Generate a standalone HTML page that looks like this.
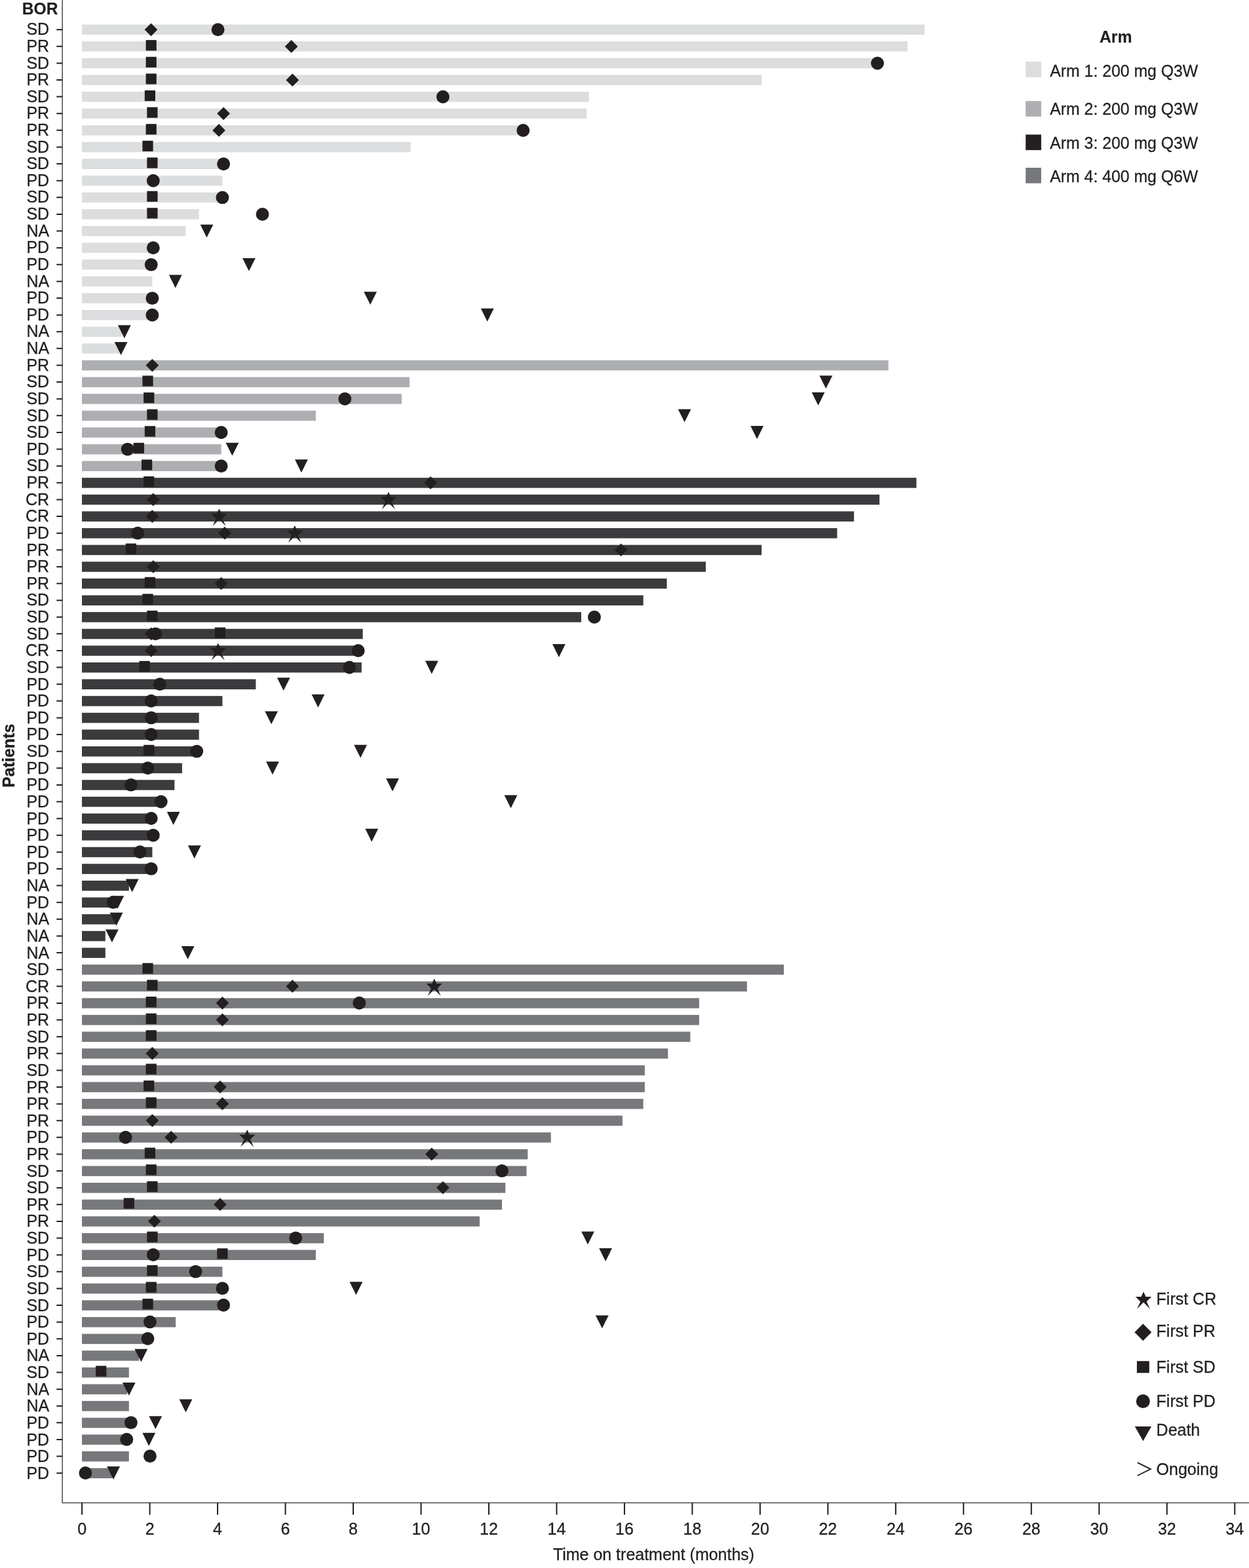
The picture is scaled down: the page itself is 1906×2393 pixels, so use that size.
<!DOCTYPE html>
<html lang="en">
<head>
<meta charset="utf-8">
<title>Time on treatment by patient</title>
<style>
html,body{margin:0;padding:0;background:#fff;}
body{width:1906px;height:2393px;overflow:hidden;}
svg{display:block;}
text{font-family:"Liberation Sans",sans-serif;fill:#231f20;}
.lbl,.lbl text{stroke:#231f20;stroke-width:0.3px;}
.lbl{font-size:25.2px;}
.b{font-weight:bold;font-size:25px;stroke:#231f20;stroke-width:0.2px;}
</style>
</head>
<body>
<svg width="1906" height="2393" viewBox="0 0 1906 2393">
<rect x="0" y="0" width="1906" height="2393" fill="#ffffff"/>
<g fill="#dcddde">
<rect x="125" y="37.5" width="1285.8" height="15.5"/>
<rect x="125" y="63.12" width="1259.9" height="15.5"/>
<rect x="125" y="88.73" width="1210" height="15.5"/>
<rect x="125" y="114.35" width="1037.2" height="15.5"/>
<rect x="125" y="139.97" width="773.8" height="15.5"/>
<rect x="125" y="165.59" width="770.3" height="15.5"/>
<rect x="125" y="191.2" width="672" height="15.5"/>
<rect x="125" y="216.82" width="501.6" height="15.5"/>
<rect x="125" y="242.44" width="214" height="15.5"/>
<rect x="125" y="268.05" width="214.4" height="15.5"/>
<rect x="125" y="293.67" width="212" height="15.5"/>
<rect x="125" y="319.29" width="178.7" height="15.5"/>
<rect x="125" y="344.9" width="158.5" height="15.5"/>
<rect x="125" y="370.52" width="107" height="15.5"/>
<rect x="125" y="396.14" width="104" height="15.5"/>
<rect x="125" y="421.75" width="107.4" height="15.5"/>
<rect x="125" y="447.37" width="105" height="15.5"/>
<rect x="125" y="472.99" width="105" height="15.5"/>
<rect x="125" y="498.61" width="61" height="15.5"/>
<rect x="125" y="524.22" width="57" height="15.5"/>
</g>
<g fill="#adaeb2">
<rect x="125" y="549.84" width="1230.7" height="15.5"/>
<rect x="125" y="575.46" width="499.9" height="15.5"/>
<rect x="125" y="601.07" width="488" height="15.5"/>
<rect x="125" y="626.69" width="356.9" height="15.5"/>
<rect x="125" y="652.31" width="211" height="15.5"/>
<rect x="125" y="677.93" width="212.6" height="15.5"/>
<rect x="125" y="703.54" width="211" height="15.5"/>
</g>
<g fill="#3b3b3d">
<rect x="125" y="729.16" width="1273.5" height="15.5"/>
<rect x="125" y="754.78" width="1217.1" height="15.5"/>
<rect x="125" y="780.39" width="1178.2" height="15.5"/>
<rect x="125" y="806.01" width="1152.5" height="15.5"/>
<rect x="125" y="831.63" width="1037.2" height="15.5"/>
<rect x="125" y="857.24" width="952" height="15.5"/>
<rect x="125" y="882.86" width="892.6" height="15.5"/>
<rect x="125" y="908.48" width="856.7" height="15.5"/>
<rect x="125" y="934.1" width="762" height="15.5"/>
<rect x="125" y="959.71" width="428.6" height="15.5"/>
<rect x="125" y="985.33" width="421" height="15.5"/>
<rect x="125" y="1010.95" width="426.8" height="15.5"/>
<rect x="125" y="1036.56" width="265.4" height="15.5"/>
<rect x="125" y="1062.18" width="214.4" height="15.5"/>
<rect x="125" y="1087.8" width="178.7" height="15.5"/>
<rect x="125" y="1113.41" width="178.7" height="15.5"/>
<rect x="125" y="1139.03" width="175" height="15.5"/>
<rect x="125" y="1164.65" width="152.9" height="15.5"/>
<rect x="125" y="1190.27" width="141.3" height="15.5"/>
<rect x="125" y="1215.88" width="118" height="15.5"/>
<rect x="125" y="1241.5" width="104" height="15.5"/>
<rect x="125" y="1267.12" width="107" height="15.5"/>
<rect x="125" y="1292.73" width="107.4" height="15.5"/>
<rect x="125" y="1318.35" width="104" height="15.5"/>
<rect x="125" y="1343.97" width="71.8" height="15.5"/>
<rect x="125" y="1369.58" width="50" height="15.5"/>
<rect x="125" y="1395.2" width="52" height="15.5"/>
<rect x="125" y="1420.82" width="35.8" height="15.5"/>
<rect x="125" y="1446.43" width="35.8" height="15.5"/>
</g>
<g fill="#77787b">
<rect x="125" y="1472.05" width="1071.2" height="15.5"/>
<rect x="125" y="1497.67" width="1014.9" height="15.5"/>
<rect x="125" y="1523.29" width="941.9" height="15.5"/>
<rect x="125" y="1548.9" width="941.9" height="15.5"/>
<rect x="125" y="1574.52" width="928.4" height="15.5"/>
<rect x="125" y="1600.14" width="894.3" height="15.5"/>
<rect x="125" y="1625.75" width="858.9" height="15.5"/>
<rect x="125" y="1651.37" width="858.9" height="15.5"/>
<rect x="125" y="1676.99" width="856.7" height="15.5"/>
<rect x="125" y="1702.61" width="824.9" height="15.5"/>
<rect x="125" y="1728.22" width="715.7" height="15.5"/>
<rect x="125" y="1753.84" width="680.3" height="15.5"/>
<rect x="125" y="1779.46" width="678.5" height="15.5"/>
<rect x="125" y="1805.07" width="646.2" height="15.5"/>
<rect x="125" y="1830.69" width="641" height="15.5"/>
<rect x="125" y="1856.31" width="606.9" height="15.5"/>
<rect x="125" y="1881.92" width="369.2" height="15.5"/>
<rect x="125" y="1907.54" width="356.9" height="15.5"/>
<rect x="125" y="1933.16" width="214.4" height="15.5"/>
<rect x="125" y="1958.78" width="212" height="15.5"/>
<rect x="125" y="1984.39" width="214" height="15.5"/>
<rect x="125" y="2010.01" width="143.1" height="15.5"/>
<rect x="125" y="2035.63" width="99" height="15.5"/>
<rect x="125" y="2061.24" width="87" height="15.5"/>
<rect x="125" y="2086.86" width="71.8" height="15.5"/>
<rect x="125" y="2112.48" width="69" height="15.5"/>
<rect x="125" y="2138.09" width="71.8" height="15.5"/>
<rect x="125" y="2163.71" width="73" height="15.5"/>
<rect x="125" y="2189.33" width="66" height="15.5"/>
<rect x="125" y="2214.95" width="71.8" height="15.5"/>
<rect x="125" y="2240.56" width="46.5" height="15.5"/>
</g>
<g fill="#231f20">
<polygon points="230.5,35.45 240.35,45.3 230.5,55.15 220.65,45.3"/>
<circle cx="332.6" cy="45.3" r="9.95"/>
<rect x="222.6" y="61.11" width="16.2" height="16.2"/>
<polygon points="444.6,61.06 454.45,70.91 444.6,80.76 434.75,70.91"/>
<rect x="222.6" y="86.72" width="16.2" height="16.2"/>
<circle cx="1339" cy="96.52" r="9.95"/>
<rect x="222.6" y="112.34" width="16.2" height="16.2"/>
<polygon points="446.3,112.29 456.15,122.14 446.3,131.99 436.45,122.14"/>
<rect x="220.8" y="137.95" width="16.2" height="16.2"/>
<circle cx="675.9" cy="147.75" r="9.95"/>
<rect x="224.3" y="163.56" width="16.2" height="16.2"/>
<polygon points="341.1,163.51 350.95,173.36 341.1,183.21 331.25,173.36"/>
<rect x="222.6" y="189.17" width="16.2" height="16.2"/>
<polygon points="334.1,189.12 343.95,198.97 334.1,208.82 324.25,198.97"/>
<circle cx="798.3" cy="198.97" r="9.95"/>
<rect x="217.4" y="214.78" width="16.2" height="16.2"/>
<rect x="224.3" y="240.4" width="16.2" height="16.2"/>
<circle cx="341.1" cy="250.2" r="9.95"/>
<circle cx="233.8" cy="275.81" r="9.95"/>
<rect x="224.3" y="291.62" width="16.2" height="16.2"/>
<circle cx="339.4" cy="301.42" r="9.95"/>
<rect x="224.3" y="317.23" width="16.2" height="16.2"/>
<circle cx="400.5" cy="327.03" r="9.95"/>
<polygon points="305.6,342.69 325.4,342.69 315.5,362.59"/>
<circle cx="233.8" cy="378.26" r="9.95"/>
<circle cx="230.7" cy="403.87" r="9.95"/>
<polygon points="370,393.92 389.8,393.92 379.9,413.82"/>
<polygon points="257.8,419.53 277.6,419.53 267.7,439.43"/>
<circle cx="232.4" cy="455.09" r="9.95"/>
<polygon points="555.2,445.14 575,445.14 565.1,465.04"/>
<circle cx="232.4" cy="480.7" r="9.95"/>
<polygon points="733.8,470.75 753.6,470.75 743.7,490.65"/>
<polygon points="179.9,496.37 199.7,496.37 189.8,516.27"/>
<polygon points="174.7,521.98 194.5,521.98 184.6,541.88"/>
<polygon points="232.4,547.69 242.25,557.54 232.4,567.39 222.55,557.54"/>
<rect x="217.4" y="573.35" width="16.2" height="16.2"/>
<polygon points="1250.5,573.2 1270.3,573.2 1260.4,593.1"/>
<rect x="219.1" y="598.96" width="16.2" height="16.2"/>
<circle cx="526.3" cy="608.76" r="9.95"/>
<polygon points="1238.7,598.81 1258.5,598.81 1248.6,618.71"/>
<rect x="224.3" y="624.58" width="16.2" height="16.2"/>
<polygon points="1034.7,624.43 1054.5,624.43 1044.6,644.33"/>
<rect x="220.8" y="650.19" width="16.2" height="16.2"/>
<circle cx="337.6" cy="659.99" r="9.95"/>
<polygon points="1145.3,650.04 1165.1,650.04 1155.2,669.94"/>
<circle cx="194.7" cy="685.6" r="9.95"/>
<rect x="203.7" y="675.8" width="16.2" height="16.2"/>
<polygon points="344.5,675.65 364.3,675.65 354.4,695.55"/>
<rect x="216" y="701.41" width="16.2" height="16.2"/>
<circle cx="337.6" cy="711.21" r="9.95"/>
<polygon points="450,701.26 469.8,701.26 459.9,721.16"/>
<rect x="219.1" y="727.02" width="16.2" height="16.2"/>
<polygon points="657,726.97 666.85,736.82 657,746.67 647.15,736.82"/>
<polygon points="233.8,752.59 243.65,762.44 233.8,772.29 223.95,762.44"/>
<polygon points="592.8,750.64 596.3,758.24 604.9,758.34 597.55,765.84 602.8,777.14 592.8,766.94 582.8,777.14 588.05,765.84 580.7,758.34 589.3,758.24"/>
<polygon points="232.4,778.2 242.25,788.05 232.4,797.9 222.55,788.05"/>
<polygon points="334.5,776.25 338,783.85 346.6,783.95 339.25,791.45 344.5,802.75 334.5,792.55 324.5,802.75 329.75,791.45 322.4,783.95 331,783.85"/>
<circle cx="210.1" cy="813.66" r="9.95"/>
<polygon points="342.9,803.81 352.75,813.66 342.9,823.51 333.05,813.66"/>
<polygon points="449.8,801.86 453.3,809.46 461.9,809.56 454.55,817.06 459.8,828.36 449.8,818.16 439.8,828.36 445.05,817.06 437.7,809.56 446.3,809.46"/>
<rect x="191.8" y="829.47" width="16.2" height="16.2"/>
<polygon points="947.7,829.42 957.55,839.27 947.7,849.12 937.85,839.27"/>
<polygon points="233.8,855.03 243.65,864.88 233.8,874.73 223.95,864.88"/>
<rect x="220.8" y="880.7" width="16.2" height="16.2"/>
<polygon points="337.6,880.65 347.45,890.5 337.6,900.35 327.75,890.5"/>
<rect x="217.4" y="906.31" width="16.2" height="16.2"/>
<rect x="224.3" y="931.92" width="16.2" height="16.2"/>
<circle cx="907" cy="941.72" r="9.95"/>
<polygon points="230.7,957.48 240.55,967.33 230.7,977.18 220.85,967.33"/>
<circle cx="237.3" cy="967.33" r="9.95"/>
<rect x="327.8" y="957.53" width="16.2" height="16.2"/>
<polygon points="230.7,983.09 240.55,992.94 230.7,1002.79 220.85,992.94"/>
<polygon points="332.8,981.14 336.3,988.74 344.9,988.84 337.55,996.34 342.8,1007.64 332.8,997.44 322.8,1007.64 328.05,996.34 320.7,988.84 329.3,988.74"/>
<circle cx="546.6" cy="992.94" r="9.95"/>
<polygon points="843,982.99 862.8,982.99 852.9,1002.89"/>
<rect x="212.5" y="1008.76" width="16.2" height="16.2"/>
<circle cx="533.3" cy="1018.56" r="9.95"/>
<polygon points="648.9,1008.61 668.7,1008.61 658.8,1028.51"/>
<circle cx="244" cy="1044.17" r="9.95"/>
<polygon points="422.8,1034.22 442.6,1034.22 432.7,1054.12"/>
<circle cx="230.7" cy="1069.78" r="9.95"/>
<polygon points="475.5,1059.83 495.3,1059.83 485.4,1079.73"/>
<circle cx="230.7" cy="1095.39" r="9.95"/>
<polygon points="404.2,1085.44 424,1085.44 414.1,1105.34"/>
<circle cx="230.7" cy="1121" r="9.95"/>
<rect x="219.1" y="1136.82" width="16.2" height="16.2"/>
<circle cx="300.2" cy="1146.62" r="9.95"/>
<polygon points="540.2,1136.67 560,1136.67 550.1,1156.57"/>
<circle cx="225.5" cy="1172.23" r="9.95"/>
<polygon points="406,1162.28 425.8,1162.28 415.9,1182.18"/>
<circle cx="199.9" cy="1197.84" r="9.95"/>
<polygon points="589.1,1187.89 608.9,1187.89 599,1207.79"/>
<circle cx="245.7" cy="1223.45" r="9.95"/>
<polygon points="769.6,1213.5 789.4,1213.5 779.5,1233.4"/>
<circle cx="230.7" cy="1249.06" r="9.95"/>
<polygon points="254.7,1239.11 274.5,1239.11 264.6,1259.01"/>
<circle cx="233.8" cy="1274.68" r="9.95"/>
<polygon points="557.3,1264.73 577.1,1264.73 567.2,1284.63"/>
<circle cx="213.6" cy="1300.29" r="9.95"/>
<polygon points="286.8,1290.34 306.6,1290.34 296.7,1310.24"/>
<circle cx="230.7" cy="1325.9" r="9.95"/>
<polygon points="191.8,1341.56 211.6,1341.56 201.7,1361.46"/>
<circle cx="172.7" cy="1377.12" r="9.95"/>
<polygon points="169.4,1367.17 189.2,1367.17 179.3,1387.07"/>
<polygon points="167.7,1392.79 187.5,1392.79 177.6,1412.69"/>
<polygon points="161,1418.4 180.8,1418.4 170.9,1438.3"/>
<polygon points="276.7,1444.01 296.5,1444.01 286.6,1463.91"/>
<rect x="217.4" y="1469.77" width="16.2" height="16.2"/>
<rect x="224.3" y="1495.38" width="16.2" height="16.2"/>
<polygon points="446.3,1495.33 456.15,1505.18 446.3,1515.03 436.45,1505.18"/>
<polygon points="662.7,1493.38 666.2,1500.98 674.8,1501.08 667.45,1508.58 672.7,1519.88 662.7,1509.68 652.7,1519.88 657.95,1508.58 650.6,1501.08 659.2,1500.98"/>
<rect x="222.6" y="1521" width="16.2" height="16.2"/>
<polygon points="339.4,1520.95 349.25,1530.8 339.4,1540.65 329.55,1530.8"/>
<circle cx="548.3" cy="1530.8" r="9.95"/>
<rect x="222.6" y="1546.61" width="16.2" height="16.2"/>
<polygon points="339.4,1546.56 349.25,1556.41 339.4,1566.26 329.55,1556.41"/>
<rect x="222.6" y="1572.22" width="16.2" height="16.2"/>
<polygon points="232.4,1597.78 242.25,1607.63 232.4,1617.48 222.55,1607.63"/>
<rect x="222.6" y="1623.44" width="16.2" height="16.2"/>
<rect x="219.1" y="1649.06" width="16.2" height="16.2"/>
<polygon points="335.9,1649.01 345.75,1658.86 335.9,1668.71 326.05,1658.86"/>
<rect x="222.6" y="1674.67" width="16.2" height="16.2"/>
<polygon points="339.4,1674.62 349.25,1684.47 339.4,1694.32 329.55,1684.47"/>
<polygon points="232.4,1700.23 242.25,1710.08 232.4,1719.93 222.55,1710.08"/>
<circle cx="191.6" cy="1735.69" r="9.95"/>
<polygon points="261.1,1725.84 270.95,1735.69 261.1,1745.54 251.25,1735.69"/>
<polygon points="377.2,1723.89 380.7,1731.49 389.3,1731.59 381.95,1739.09 387.2,1750.39 377.2,1740.19 367.2,1750.39 372.45,1739.09 365.1,1731.59 373.7,1731.49"/>
<rect x="220.8" y="1751.5" width="16.2" height="16.2"/>
<polygon points="658.8,1751.45 668.65,1761.3 658.8,1771.15 648.95,1761.3"/>
<rect x="222.6" y="1777.12" width="16.2" height="16.2"/>
<circle cx="766" cy="1786.92" r="9.95"/>
<rect x="224.3" y="1802.73" width="16.2" height="16.2"/>
<polygon points="675.9,1802.68 685.75,1812.53 675.9,1822.38 666.05,1812.53"/>
<rect x="188.7" y="1828.34" width="16.2" height="16.2"/>
<polygon points="335.9,1828.29 345.75,1838.14 335.9,1847.99 326.05,1838.14"/>
<polygon points="235.6,1853.9 245.45,1863.75 235.6,1873.6 225.75,1863.75"/>
<rect x="224.3" y="1879.56" width="16.2" height="16.2"/>
<circle cx="451.2" cy="1889.36" r="9.95"/>
<polygon points="887.1,1879.41 906.9,1879.41 897,1899.31"/>
<circle cx="233.8" cy="1914.98" r="9.95"/>
<rect x="331.3" y="1905.18" width="16.2" height="16.2"/>
<polygon points="914.2,1905.03 934,1905.03 924.1,1924.93"/>
<rect x="224.3" y="1930.79" width="16.2" height="16.2"/>
<circle cx="298.5" cy="1940.59" r="9.95"/>
<rect x="222.6" y="1956.4" width="16.2" height="16.2"/>
<circle cx="339.4" cy="1966.2" r="9.95"/>
<polygon points="533.5,1956.25 553.3,1956.25 543.4,1976.15"/>
<rect x="217.4" y="1982.01" width="16.2" height="16.2"/>
<circle cx="341.1" cy="1991.81" r="9.95"/>
<circle cx="228.9" cy="2017.42" r="9.95"/>
<polygon points="908.9,2007.47 928.7,2007.47 918.8,2027.37"/>
<circle cx="225.5" cy="2043.04" r="9.95"/>
<polygon points="205.4,2058.7 225.2,2058.7 215.3,2078.6"/>
<rect x="146.1" y="2084.46" width="16.2" height="16.2"/>
<polygon points="186.9,2109.92 206.7,2109.92 196.8,2129.82"/>
<polygon points="273.6,2135.53 293.4,2135.53 283.5,2155.43"/>
<circle cx="199.9" cy="2171.1" r="9.95"/>
<polygon points="227.4,2161.15 247.2,2161.15 237.3,2181.05"/>
<circle cx="193.3" cy="2196.71" r="9.95"/>
<polygon points="217.3,2186.76 237.1,2186.76 227.2,2206.66"/>
<circle cx="228.9" cy="2222.32" r="9.95"/>
<circle cx="130.4" cy="2247.93" r="9.95"/>
<polygon points="163.2,2237.98 183,2237.98 173.1,2257.88"/>
</g>
<path d="M95.15 0V2293.5H1906" fill="none" stroke="#4a4a4c" stroke-width="1.5"/>
<path d="M86.3 45.15H95.2 M86.3 70.77H95.2 M86.3 96.38H95.2 M86.3 122H95.2 M86.3 147.62H95.2 M86.3 173.24H95.2 M86.3 198.85H95.2 M86.3 224.47H95.2 M86.3 250.09H95.2 M86.3 275.7H95.2 M86.3 301.32H95.2 M86.3 326.94H95.2 M86.3 352.55H95.2 M86.3 378.17H95.2 M86.3 403.79H95.2 M86.3 429.4H95.2 M86.3 455.02H95.2 M86.3 480.64H95.2 M86.3 506.26H95.2 M86.3 531.87H95.2 M86.3 557.49H95.2 M86.3 583.11H95.2 M86.3 608.72H95.2 M86.3 634.34H95.2 M86.3 659.96H95.2 M86.3 685.58H95.2 M86.3 711.19H95.2 M86.3 736.81H95.2 M86.3 762.43H95.2 M86.3 788.04H95.2 M86.3 813.66H95.2 M86.3 839.28H95.2 M86.3 864.89H95.2 M86.3 890.51H95.2 M86.3 916.13H95.2 M86.3 941.75H95.2 M86.3 967.36H95.2 M86.3 992.98H95.2 M86.3 1018.6H95.2 M86.3 1044.21H95.2 M86.3 1069.83H95.2 M86.3 1095.45H95.2 M86.3 1121.06H95.2 M86.3 1146.68H95.2 M86.3 1172.3H95.2 M86.3 1197.92H95.2 M86.3 1223.53H95.2 M86.3 1249.15H95.2 M86.3 1274.77H95.2 M86.3 1300.38H95.2 M86.3 1326H95.2 M86.3 1351.62H95.2 M86.3 1377.23H95.2 M86.3 1402.85H95.2 M86.3 1428.47H95.2 M86.3 1454.09H95.2 M86.3 1479.7H95.2 M86.3 1505.32H95.2 M86.3 1530.94H95.2 M86.3 1556.55H95.2 M86.3 1582.17H95.2 M86.3 1607.79H95.2 M86.3 1633.4H95.2 M86.3 1659.02H95.2 M86.3 1684.64H95.2 M86.3 1710.26H95.2 M86.3 1735.87H95.2 M86.3 1761.49H95.2 M86.3 1787.11H95.2 M86.3 1812.72H95.2 M86.3 1838.34H95.2 M86.3 1863.96H95.2 M86.3 1889.57H95.2 M86.3 1915.19H95.2 M86.3 1940.81H95.2 M86.3 1966.43H95.2 M86.3 1992.04H95.2 M86.3 2017.66H95.2 M86.3 2043.28H95.2 M86.3 2068.89H95.2 M86.3 2094.51H95.2 M86.3 2120.13H95.2 M86.3 2145.74H95.2 M86.3 2171.36H95.2 M86.3 2196.98H95.2 M86.3 2222.6H95.2 M86.3 2248.21H95.2" fill="none" stroke="#231f20" stroke-width="2"/>
<path d="M125.1 2293.5V2311.8 M228.58 2293.5V2311.8 M332.06 2293.5V2311.8 M435.54 2293.5V2311.8 M539.02 2293.5V2311.8 M642.5 2293.5V2311.8 M745.98 2293.5V2311.8 M849.46 2293.5V2311.8 M952.94 2293.5V2311.8 M1056.42 2293.5V2311.8 M1159.9 2293.5V2311.8 M1263.38 2293.5V2311.8 M1366.86 2293.5V2311.8 M1470.34 2293.5V2311.8 M1573.82 2293.5V2311.8 M1677.3 2293.5V2311.8 M1780.78 2293.5V2311.8 M1884.26 2293.5V2311.8" fill="none" stroke="#231f20" stroke-width="2"/>
<g class="lbl" text-anchor="middle">
<text transform="translate(125.1 2341.6) scale(0.992 1)">0</text>
<text transform="translate(228.58 2341.6) scale(0.992 1)">2</text>
<text transform="translate(332.06 2341.6) scale(0.992 1)">4</text>
<text transform="translate(435.54 2341.6) scale(0.992 1)">6</text>
<text transform="translate(539.02 2341.6) scale(0.992 1)">8</text>
<text transform="translate(642.5 2341.6) scale(0.992 1)">10</text>
<text transform="translate(745.98 2341.6) scale(0.992 1)">12</text>
<text transform="translate(849.46 2341.6) scale(0.992 1)">14</text>
<text transform="translate(952.94 2341.6) scale(0.992 1)">16</text>
<text transform="translate(1056.42 2341.6) scale(0.992 1)">18</text>
<text transform="translate(1159.9 2341.6) scale(0.992 1)">20</text>
<text transform="translate(1263.38 2341.6) scale(0.992 1)">22</text>
<text transform="translate(1366.86 2341.6) scale(0.992 1)">24</text>
<text transform="translate(1470.34 2341.6) scale(0.992 1)">26</text>
<text transform="translate(1573.82 2341.6) scale(0.992 1)">28</text>
<text transform="translate(1677.3 2341.6) scale(0.992 1)">30</text>
<text transform="translate(1780.78 2341.6) scale(0.992 1)">32</text>
<text transform="translate(1884.26 2341.6) scale(0.992 1)">34</text>
</g>
<g class="lbl" text-anchor="end">
<text transform="translate(75.1 53.26) scale(0.992 1)">SD</text>
<text transform="translate(75.1 78.88) scale(0.992 1)">PR</text>
<text transform="translate(75.1 104.51) scale(0.992 1)">SD</text>
<text transform="translate(75.1 130.13) scale(0.992 1)">PR</text>
<text transform="translate(75.1 155.75) scale(0.992 1)">SD</text>
<text transform="translate(75.1 181.38) scale(0.992 1)">PR</text>
<text transform="translate(75.1 207) scale(0.992 1)">PR</text>
<text transform="translate(75.1 232.62) scale(0.992 1)">SD</text>
<text transform="translate(75.1 258.24) scale(0.992 1)">SD</text>
<text transform="translate(75.1 283.87) scale(0.992 1)">PD</text>
<text transform="translate(75.1 309.49) scale(0.992 1)">SD</text>
<text transform="translate(75.1 335.11) scale(0.992 1)">SD</text>
<text transform="translate(75.1 360.74) scale(0.992 1)">NA</text>
<text transform="translate(75.1 386.36) scale(0.992 1)">PD</text>
<text transform="translate(75.1 411.98) scale(0.992 1)">PD</text>
<text transform="translate(75.1 437.61) scale(0.992 1)">NA</text>
<text transform="translate(75.1 463.23) scale(0.992 1)">PD</text>
<text transform="translate(75.1 488.85) scale(0.992 1)">PD</text>
<text transform="translate(75.1 514.47) scale(0.992 1)">NA</text>
<text transform="translate(75.1 540.1) scale(0.992 1)">NA</text>
<text transform="translate(75.1 565.72) scale(0.992 1)">PR</text>
<text transform="translate(75.1 591.34) scale(0.992 1)">SD</text>
<text transform="translate(75.1 616.97) scale(0.992 1)">SD</text>
<text transform="translate(75.1 642.59) scale(0.992 1)">SD</text>
<text transform="translate(75.1 668.21) scale(0.992 1)">SD</text>
<text transform="translate(75.1 693.84) scale(0.992 1)">PD</text>
<text transform="translate(75.1 719.46) scale(0.992 1)">SD</text>
<text transform="translate(75.1 745.08) scale(0.992 1)">PR</text>
<text transform="translate(75.1 770.7) scale(0.992 1)">CR</text>
<text transform="translate(75.1 796.33) scale(0.992 1)">CR</text>
<text transform="translate(75.1 821.95) scale(0.992 1)">PD</text>
<text transform="translate(75.1 847.57) scale(0.992 1)">PR</text>
<text transform="translate(75.1 873.2) scale(0.992 1)">PR</text>
<text transform="translate(75.1 898.82) scale(0.992 1)">PR</text>
<text transform="translate(75.1 924.44) scale(0.992 1)">SD</text>
<text transform="translate(75.1 950.07) scale(0.992 1)">SD</text>
<text transform="translate(75.1 975.69) scale(0.992 1)">SD</text>
<text transform="translate(75.1 1001.31) scale(0.992 1)">CR</text>
<text transform="translate(75.1 1026.93) scale(0.992 1)">SD</text>
<text transform="translate(75.1 1052.56) scale(0.992 1)">PD</text>
<text transform="translate(75.1 1078.18) scale(0.992 1)">PD</text>
<text transform="translate(75.1 1103.8) scale(0.992 1)">PD</text>
<text transform="translate(75.1 1129.43) scale(0.992 1)">PD</text>
<text transform="translate(75.1 1155.05) scale(0.992 1)">SD</text>
<text transform="translate(75.1 1180.67) scale(0.992 1)">PD</text>
<text transform="translate(75.1 1206.3) scale(0.992 1)">PD</text>
<text transform="translate(75.1 1231.92) scale(0.992 1)">PD</text>
<text transform="translate(75.1 1257.54) scale(0.992 1)">PD</text>
<text transform="translate(75.1 1283.16) scale(0.992 1)">PD</text>
<text transform="translate(75.1 1308.79) scale(0.992 1)">PD</text>
<text transform="translate(75.1 1334.41) scale(0.992 1)">PD</text>
<text transform="translate(75.1 1360.03) scale(0.992 1)">NA</text>
<text transform="translate(75.1 1385.66) scale(0.992 1)">PD</text>
<text transform="translate(75.1 1411.28) scale(0.992 1)">NA</text>
<text transform="translate(75.1 1436.9) scale(0.992 1)">NA</text>
<text transform="translate(75.1 1462.53) scale(0.992 1)">NA</text>
<text transform="translate(75.1 1488.15) scale(0.992 1)">SD</text>
<text transform="translate(75.1 1513.77) scale(0.992 1)">CR</text>
<text transform="translate(75.1 1539.39) scale(0.992 1)">PR</text>
<text transform="translate(75.1 1565.02) scale(0.992 1)">PR</text>
<text transform="translate(75.1 1590.64) scale(0.992 1)">SD</text>
<text transform="translate(75.1 1616.26) scale(0.992 1)">PR</text>
<text transform="translate(75.1 1641.89) scale(0.992 1)">SD</text>
<text transform="translate(75.1 1667.51) scale(0.992 1)">PR</text>
<text transform="translate(75.1 1693.13) scale(0.992 1)">PR</text>
<text transform="translate(75.1 1718.76) scale(0.992 1)">PR</text>
<text transform="translate(75.1 1744.38) scale(0.992 1)">PD</text>
<text transform="translate(75.1 1770) scale(0.992 1)">PR</text>
<text transform="translate(75.1 1795.62) scale(0.992 1)">SD</text>
<text transform="translate(75.1 1821.25) scale(0.992 1)">SD</text>
<text transform="translate(75.1 1846.87) scale(0.992 1)">PR</text>
<text transform="translate(75.1 1872.49) scale(0.992 1)">PR</text>
<text transform="translate(75.1 1898.12) scale(0.992 1)">SD</text>
<text transform="translate(75.1 1923.74) scale(0.992 1)">PD</text>
<text transform="translate(75.1 1949.36) scale(0.992 1)">SD</text>
<text transform="translate(75.1 1974.99) scale(0.992 1)">SD</text>
<text transform="translate(75.1 2000.61) scale(0.992 1)">SD</text>
<text transform="translate(75.1 2026.23) scale(0.992 1)">PD</text>
<text transform="translate(75.1 2051.85) scale(0.992 1)">PD</text>
<text transform="translate(75.1 2077.48) scale(0.992 1)">NA</text>
<text transform="translate(75.1 2103.1) scale(0.992 1)">SD</text>
<text transform="translate(75.1 2128.72) scale(0.992 1)">NA</text>
<text transform="translate(75.1 2154.35) scale(0.992 1)">NA</text>
<text transform="translate(75.1 2179.97) scale(0.992 1)">PD</text>
<text transform="translate(75.1 2205.59) scale(0.992 1)">PD</text>
<text transform="translate(75.1 2231.22) scale(0.992 1)">PD</text>
<text transform="translate(75.1 2256.84) scale(0.992 1)">PD</text>
</g>
<text class="b" text-anchor="middle" transform="translate(61.1 22.4) scale(0.985 1)">BOR</text>
<text class="b" style="stroke-width:0.35px" text-anchor="middle" transform="translate(21.6 1153.3) rotate(-90)">Patients</text>
<text class="lbl" text-anchor="middle" transform="translate(997.5 2381.2) scale(0.992 1)">Time on treatment (months)</text>
<text class="b" text-anchor="middle" transform="translate(1702.7 65) scale(0.99 1)">Arm</text>
<rect x="1565.2" y="94.1" width="23.7" height="23.7" fill="#dcddde"/>
<text class="lbl" transform="translate(1602.3 116.6) scale(0.984 1)">Arm 1: 200 mg Q3W</text>
<rect x="1565.2" y="154.2" width="23.7" height="23.7" fill="#adaeb2"/>
<text class="lbl" transform="translate(1602.3 174.8) scale(0.984 1)">Arm 2: 200 mg Q3W</text>
<rect x="1565.2" y="205.4" width="23.7" height="23.7" fill="#231f20"/>
<text class="lbl" transform="translate(1602.3 226.8) scale(0.984 1)">Arm 3: 200 mg Q3W</text>
<rect x="1565.2" y="256" width="23.7" height="23.7" fill="#77787b"/>
<text class="lbl" transform="translate(1602.3 277.8) scale(0.984 1)">Arm 4: 400 mg Q6W</text>
<g fill="#231f20">
<polygon points="1745,1971.3 1748.5,1978.9 1757.1,1979 1749.75,1986.5 1755,1997.8 1745,1987.6 1735,1997.8 1740.25,1986.5 1732.9,1979 1741.5,1978.9"/>
<polygon points="1744.3,2020.2 1757.3,2033.2 1744.3,2046.2 1731.3,2033.2"/>
<rect x="1734.9" y="2077.2" width="18.9" height="18.1"/>
<circle cx="1744.3" cy="2138.5" r="10.5"/>
<polygon points="1731.8,2177.1 1757,2177.1 1744.4,2199.3"/>
</g>
<path d="M1735.8 2232.2L1755.8 2242.1L1735.8 2252" fill="none" stroke="#231f20" stroke-width="1.9"/>
<text class="lbl" transform="translate(1764.6 1990.8) scale(0.992 1)">First CR</text>
<text class="lbl" transform="translate(1764.6 2040.3) scale(0.992 1)">First PR</text>
<text class="lbl" transform="translate(1764.6 2095.1) scale(0.992 1)">First SD</text>
<text class="lbl" transform="translate(1764.6 2146.5) scale(0.992 1)">First PD</text>
<text class="lbl" transform="translate(1764.6 2191.4) scale(0.992 1)">Death</text>
<text class="lbl" transform="translate(1764.6 2250.6) scale(0.992 1)">Ongoing</text>
</svg>
</body>
</html>
